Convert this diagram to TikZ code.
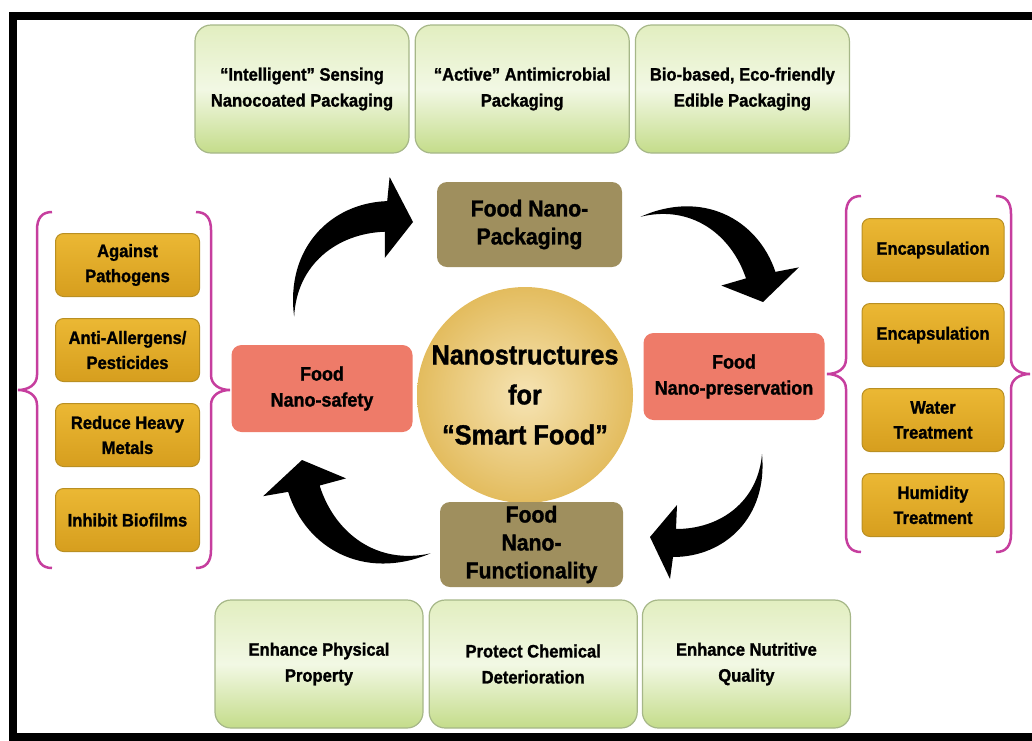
\documentclass[tikz,border=0pt]{standalone}
\usepackage{fontspec}
\setmainfont[FakeStretch=0.92, BoldFeatures={FakeBold=1.3}]{Liberation Sans}
\usetikzlibrary{positioning}

\definecolor{greentop}{HTML}{E2EEC0}
\definecolor{greenmid}{HTML}{F2F8E4}
\definecolor{greenbot}{HTML}{C4DC8A}
\definecolor{greenline}{HTML}{A6B788}
\definecolor{goldtop}{HTML}{EBB834}
\definecolor{goldbot}{HTML}{D69E1E}
\definecolor{goldline}{HTML}{B98F22}
\definecolor{nanoolive}{HTML}{9F8F5E}
\definecolor{nanosalmon}{HTML}{EE7B69}
\definecolor{braceink}{HTML}{C63E9E}
\definecolor{ballin}{HTML}{F6E4B4}
\definecolor{ballout}{HTML}{E3BC5E}

\tikzset{
  greenbox/.style={draw=greenline, line width=1.2pt, rounded corners=16pt,
    top color=greentop, bottom color=greenbot, middle color=greenmid,
    minimum height=128pt, align=center, font=\fontsize{18}{26}\selectfont\bfseries},
  goldbox/.style={draw=goldline, line width=1pt, rounded corners=8pt,
    top color=goldtop, bottom color=goldbot, minimum width=144pt, minimum height=63pt,
    align=center, font=\fontsize{18}{25}\selectfont\bfseries},
  olivebox/.style={fill=nanoolive, rounded corners=10pt, inner sep=1pt,
    minimum width=185pt, minimum height=85pt, align=center,
    font=\fontsize{23}{28}\selectfont\bfseries},
  salmonbox/.style={fill=nanosalmon, rounded corners=10pt,
    minimum width=181pt, minimum height=87pt, align=center,
    font=\fontsize{19.5}{26}\selectfont\bfseries},
  ball/.style={circle, inner color=ballin, outer color=ballout, minimum size=216pt,
    inner sep=0pt, align=center, font=\fontsize{27.5}{40}\selectfont\bfseries},
  bendarrow/.pic={
    \fill[black] (0,0) -- (27,-32) -- (26,-8) .. controls (70,-8) and (108,-35) .. (112,-83)
      .. controls (118,-20) and (75,20) .. (23,20) -- (20,42) -- cycle;
  },
  curlybrace/.pic={
    \draw[braceink, line width=2.5pt] (34,-178) .. controls (24,-178) and (19,-172) .. (19,-160)
      -- (19,-15) .. controls (19,-5) and (10,0) .. (0,0) .. controls (10,0) and (19,5) .. (19,15)
      -- (19,160) .. controls (19,172) and (24,178) .. (34,178);
  },
}

\begin{document}
\begin{tikzpicture}[x=1pt, y=-1pt]
  \useasboundingbox (0,0) rectangle (1032,740);
  \draw[line width=8pt] (12.5,15.5) rectangle (1045,737);

  % packaging row
  \node[greenbox, minimum width=214pt] (sense) at (302,89) {“Intelligent” Sensing\\Nanocoated Packaging};
  \node[greenbox, minimum width=214pt, right=5pt of sense] (active) {“Active” Antimicrobial\\Packaging};
  \node[greenbox, minimum width=214pt, right=5pt of active] (edible) {Bio-based, Eco-friendly\\Edible Packaging};

  % functionality row
  \node[greenbox, minimum width=208pt] (physical) at (319,664) {Enhance Physical\\Property};
  \node[greenbox, minimum width=208pt, right=5pt of physical] (chemical) {Protect Chemical\\Deterioration};
  \node[greenbox, minimum width=208pt, right=4pt of chemical] (nutritive) {Enhance Nutritive\\Quality};

  % safety list
  \node[goldbox] (pathogen) at (127.5,265) {Against\\Pathogens};
  \node[goldbox, below=21pt of pathogen] (allergen) {Anti-Allergens/\\Pesticides};
  \node[goldbox, below=21pt of allergen] (metals) {Reduce Heavy\\Metals};
  \node[goldbox, below=21pt of metals] (biofilm) {Inhibit Biofilms};

  % preservation list
  \node[goldbox, minimum width=142pt] (encapA) at (933,250) {Encapsulation};
  \node[goldbox, minimum width=142pt, below=21pt of encapA] (encapB) {Encapsulation};
  \node[goldbox, minimum width=142pt, below=21pt of encapB] (water) {Water\\Treatment};
  \node[goldbox, minimum width=142pt, below=21pt of water] (humid) {Humidity\\Treatment};

  % the cycle
  \node[ball] (smart) at (525,395) {Nanostructures\\for\\“Smart Food”};
  \node[olivebox] (pack) at (529.5,224.5) {Food Nano-\\Packaging};
  \node[olivebox, minimum width=183pt] (funct) at (531.5,544.5) {Food\\Nano-\\Functionality};
  \node[salmonbox] (safety) at (322,388.5) {Food\\Nano-safety};
  \node[salmonbox] (preserve) at (734,376.5) {Food\\Nano-preservation};

  % braces
  \pic at (18,390) {curlybrace};
  \pic[xscale=-1] at (230,390) {curlybrace};
  \pic at (827,374) {curlybrace};
  \pic[xscale=-1] at (1030,374) {curlybrace};

  % curved arrows
  \coordinate (toPack) at (413,222);
  \coordinate (toPreserve) at (763,302);
  \coordinate (toFunct) at (650,537);
  \coordinate (toSafety) at (302,460);
  \pic[rotate=-178, scale=1.09] at (toPack) {bendarrow};
  \pic[rotate=108.6, scale=1.07] at (toPreserve) {bendarrow};
  \pic at (toFunct) {bendarrow};
  \pic[rotate=-72.5, scale=1.14] at (toSafety) {bendarrow};
\end{tikzpicture}
\end{document}
